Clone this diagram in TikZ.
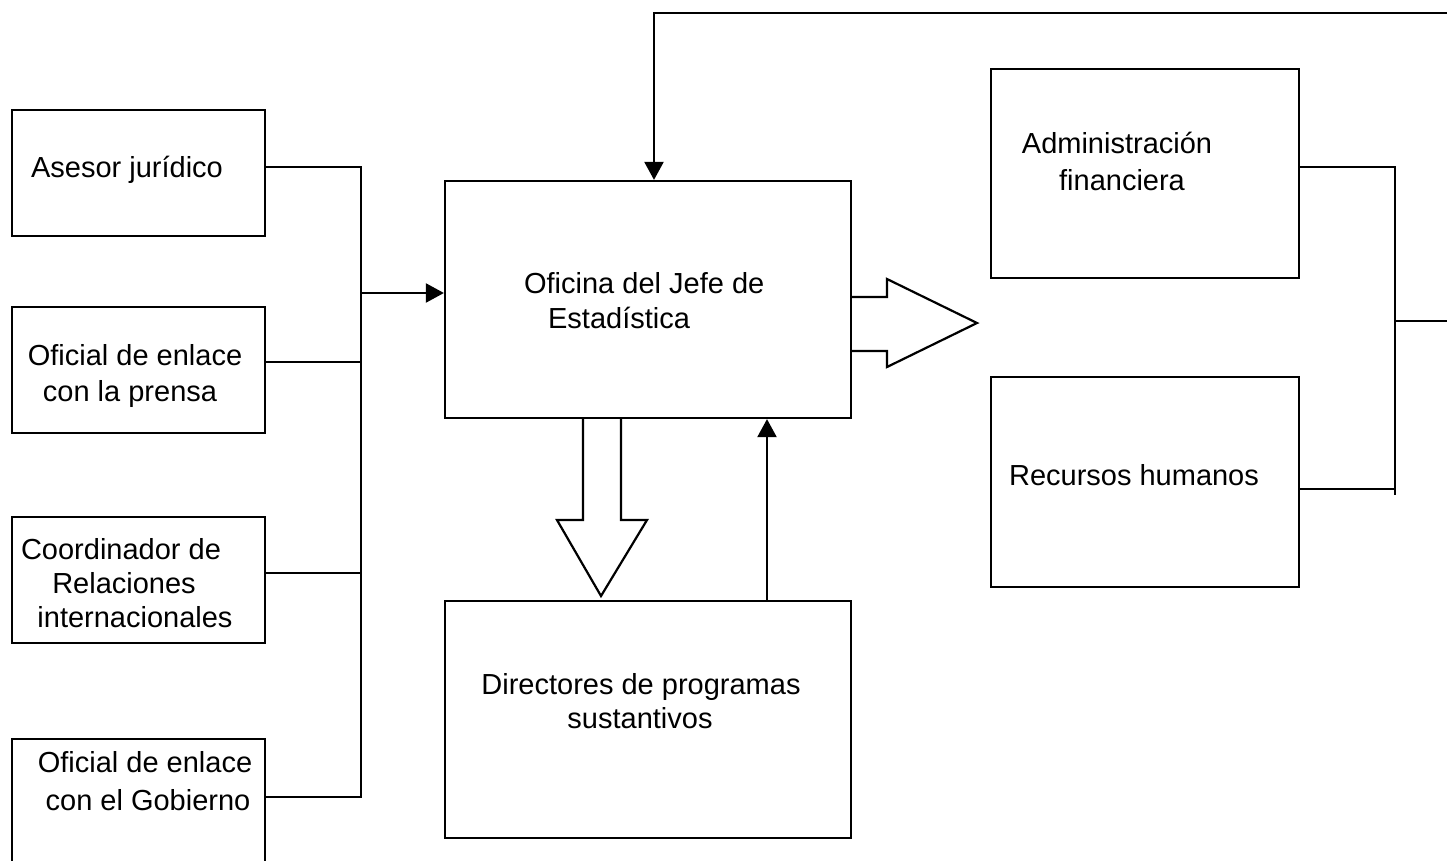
\documentclass[tikz,border=0pt]{standalone}
\usepackage{fontspec}
\setmainfont{Liberation Sans}
\usetikzlibrary{arrows.meta}
\begin{document}
\begin{tikzpicture}[x=1pt,y=-1pt,
  line width=2.2pt,
  box/.style={draw, rectangle, inner sep=0pt, line width=2.2pt},
  lbl/.style={inner sep=0pt, anchor=base, font=\fontsize{29}{34}\selectfont},
  lblw/.style={inner sep=0pt, anchor=base west, font=\fontsize{29}{34}\selectfont},
  tip/.style={-{Triangle[length=18pt,width=19pt]}},
  hollow/.style={line width=2.2pt, line join=miter}]
\useasboundingbox (0,0) rectangle (1447,860);
% boxes
\node[box, minimum width=253pt, minimum height=126pt] (ase) at (138.5,173) {};
\node[box, minimum width=253pt, minimum height=126pt] (pre) at (138.5,370) {};
\node[box, minimum width=253pt, minimum height=126pt] (coo) at (138.5,580) {};
\node[box, minimum width=253pt, minimum height=126pt] (gob) at (138.5,802) {};
\node[box, minimum width=406pt, minimum height=237pt] (ofi) at (648,299.5) {};
\node[box, minimum width=406pt, minimum height=237pt] (dir) at (648,719.5) {};
\node[box, minimum width=308pt, minimum height=209pt] (adm) at (1145,173.5) {};
\node[box, minimum width=308pt, minimum height=210pt] (rh) at (1145,482) {};
% texts
\node[lbl] (ase-t) at (127,177) {Asesor jurídico};
\node[lbl] (pre-t1) at (135,365) {Oficial de enlace};
\node[lbl] (pre-t2) at (130,401) {con la prensa};
\node[lbl] (coo-t1) at (121,559) {Coordinador de};
\node[lbl] (coo-t2) at (124,593) {Relaciones};
\node[lbl] (coo-t3) at (135,627) {internacionales};
\node[lbl] (gob-t1) at (145,772) {Oficial de enlace};
\node[lbl] (gob-t2) at (148,810) {con el Gobierno};
\node[lblw] (ofi-t1) at (523,293) {Oficina del Jefe de};
\node[lblw] (ofi-t2) at (547,328) {Estadística};
\node[lbl] (dir-t1) at (641,694) {Directores de programas};
\node[lbl] (dir-t2) at (640,728) {sustantivos};
\node[lbl] (adm-t1) at (1117,153) {Administración};
\node[lbl] (adm-t2) at (1122,190) {financiera};
\node[lbl] (rh-t) at (1134,485) {Recursos humanos};
% left bus
\coordinate (b1) at (361,167);
\coordinate (b2) at (361,362);
\coordinate (b3) at (361,573);
\coordinate (b4) at (361,797);
\coordinate (b0) at (361,293);
\draw (ase.east |- b1) -- (b1) -- (b4) -- (gob.east |- b4);
\draw (pre.east |- b2) -- (b2);
\draw (coo.east |- b3) -- (b3);
\draw[tip] (b0) -- (ofi.west |- b0);
% top feedback
\coordinate (t1) at (654,13);
\coordinate (t2) at (1447,13);
\draw[tip] (t2) -- (t1) -- (ofi.north -| t1);
% up arrow
\coordinate (u1) at (767,500);
\draw[tip] (dir.north -| u1) -- (ofi.south -| u1);
% right bus
\coordinate (r1) at (1395,167);
\coordinate (r2) at (1395,489);
\coordinate (r3) at (1395,495);
\coordinate (r0) at (1395,321);
\coordinate (rout) at (1447,321);
\draw (adm.east |- r1) -- (r1) -- (r3);
\draw (rh.east |- r2) -- (r2);
\draw (r0) -- (rout);
% hollow arrows
\draw[hollow] (851,297) -- (887,297) -- (887,279) -- (977,323) -- (887,367) -- (887,351) -- (851,351);
\draw[hollow] (583,418) -- (583,520) -- (557,520) -- (601,596) -- (647,520) -- (621,520) -- (621,418);
\end{tikzpicture}
\end{document}
